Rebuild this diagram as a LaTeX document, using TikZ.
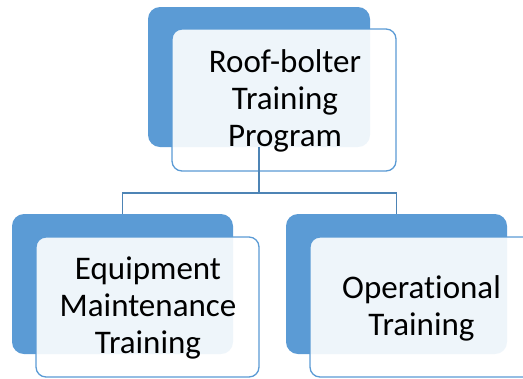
\documentclass[tikz,border=0pt]{standalone}
\usepackage{fontspec}
\setmainfont{Carlito}[Ligatures=NoCommon]
\definecolor{accent}{HTML}{5B9BD5}
\begin{document}
\begin{tikzpicture}[x=1bp,y=-1bp,
  backbox/.style={fill=accent, draw=none, rounded corners=12bp},
  frontbox/.style={fill=white, fill opacity=0.9, draw=accent, line width=1.3bp, rounded corners=10bp},
  label/.style={align=center, font=\fontsize{33bp}{37bp}\selectfont, text=black},
  link/.style={draw=accent!85!black, line width=1.3bp}]
\useasboundingbox (0,0) rectangle (523,378);

% top level
\draw[backbox] (148,7) rectangle (370,147);
\coordinate (topc) at (259,147);
\draw[frontbox] (172,29) rectangle (396,171);
\node[label] (top) at (285,101) {Roof-bolter\\Training\\Program};

% second level, left
\draw[backbox] (12,214) rectangle (233,354);
\coordinate (leftc) at (122.5,214);
\draw[frontbox] (36,237) rectangle (259,377);
\node[label] (left) at (148,308) {Equipment\\Maintenance\\Training};

% second level, right
\draw[backbox] (286,214) rectangle (507,354);
\coordinate (rightc) at (396.5,214);
\draw[frontbox] (310,237) rectangle (533,377);
\node[label] (right) at (421.5,308) {Operational\\Training};

% connectors
\coordinate (mid) at (259,193);
\draw[link] (topc) -- (mid);
\draw[link] (leftc) |- (mid) -| (rightc);
\end{tikzpicture}
\end{document}
